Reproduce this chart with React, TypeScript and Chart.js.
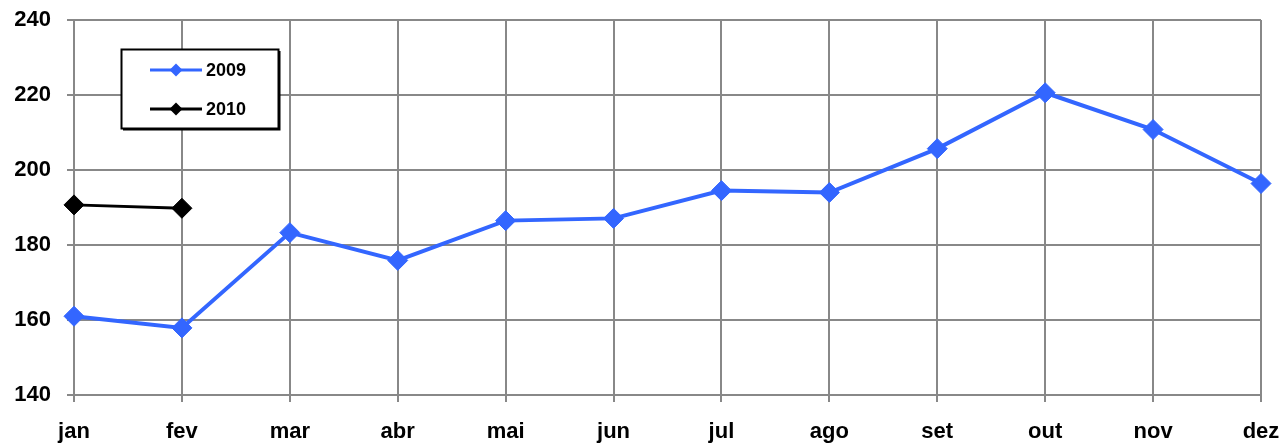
import React, { useEffect, useRef } from "react";
import { Chart, registerables } from "chart.js";

Chart.register(...registerables);

const months = ["jan", "fev", "mar", "abr", "mai", "jun", "jul", "ago", "set", "out", "nov", "dez"];
const series2009 = [161.0, 157.9, 183.3, 175.9, 186.5, 187.1, 194.5, 194.0, 205.7, 220.6, 210.8, 196.4];
const series2010 = [190.7, 189.8];
const seriesLabels = ["2009", "2010"];
const yMin = 140;
const yMax = 240;
const yStep = 20;

const FONT = "'Liberation Sans', Arial, sans-serif";

const boxLegend = {
  id: "boxLegend",
  afterDatasetsDraw(chart: any) {
    const ctx = chart.ctx;
    const x0 = 121.5, y0 = 49.5, w = 157, h = 79;
    ctx.save();
    ctx.fillStyle = "#000";
    ctx.fillRect(x0 + 1.5, y0 + 1.5, w + 0.5, h + 0.5);
    ctx.fillStyle = "#fff";
    ctx.fillRect(x0, y0, w, h);
    ctx.strokeStyle = "#000";
    ctx.lineWidth = 2;
    ctx.strokeRect(x0, y0, w, h);
    const rows = [70, 109];
    chart.data.datasets.forEach((ds: any, i: number) => {
      const y = rows[i];
      ctx.strokeStyle = ds.borderColor;
      ctx.lineWidth = 3;
      ctx.beginPath();
      ctx.moveTo(150, y);
      ctx.lineTo(202, y);
      ctx.stroke();
      ctx.fillStyle = ds.pointBackgroundColor;
      const r = 6.5;
      ctx.beginPath();
      ctx.moveTo(176 - r, y);
      ctx.lineTo(176, y - r);
      ctx.lineTo(176 + r, y);
      ctx.lineTo(176, y + r);
      ctx.closePath();
      ctx.fill();
      ctx.fillStyle = "#000";
      ctx.font = `bold 18px ${FONT}`;
      ctx.textBaseline = "middle";
      ctx.textAlign = "left";
      ctx.fillText(ds.label, 206, y + 1);
    });
    ctx.restore();
  },
};

const zeroPad = (s: any) => {
  s.paddingLeft = 0;
  s.paddingRight = 0;
  s.paddingTop = 0;
  s.paddingBottom = 0;
};

export default function App() {
  const ref = useRef<HTMLCanvasElement | null>(null);
  useEffect(() => {
    if (!ref.current) return;
    const chart = new Chart(ref.current, {
      type: "line",
      data: {
        labels: months,
        datasets: [
          {
            label: seriesLabels[0],
            data: series2009,
            borderColor: "#3366FF",
            backgroundColor: "#3366FF",
            pointBackgroundColor: "#3366FF",
            pointBorderColor: "#3366FF",
            borderWidth: 4,
            pointStyle: "rectRot",
            pointRadius: 10,
            pointBorderWidth: 1,
            tension: 0,
          },
          {
            label: seriesLabels[1],
            data: series2010,
            borderColor: "#000000",
            backgroundColor: "#000000",
            pointBackgroundColor: "#000000",
            pointBorderColor: "#000000",
            borderWidth: 3,
            pointStyle: "rectRot",
            pointRadius: 10,
            pointBorderWidth: 1,
            tension: 0,
          },
        ],
      },
      options: {
        animation: false,
        responsive: false,
        layout: { padding: { left: 0, right: 23, top: 20, bottom: 0 } },
        plugins: { legend: { display: false }, tooltip: { enabled: false } },
        scales: {
          x: {
            type: "category",
            offset: false,
            grid: { color: "#888888", lineWidth: 2, tickLength: 7, offset: false },
            border: { display: true, color: "#888888", width: 2 },
            ticks: {
              color: "#000",
              font: { family: FONT, size: 22, weight: "bold" },
              padding: 17,
              maxRotation: 0,
              autoSkip: false,
            },
            afterFit: (s: any) => {
              s.height = 50;
              zeroPad(s);
            },
          },
          y: {
            min: yMin,
            max: yMax,
            grid: { color: "#888888", lineWidth: 2, tickLength: 7 },
            border: { display: true, color: "#888888", width: 2 },
            ticks: {
              stepSize: yStep,
              color: "#000",
              font: { family: FONT, size: 22, weight: "bold" },
              padding: 16,
            },
            afterFit: (s: any) => {
              s.width = 74;
              zeroPad(s);
            },
          },
        },
      },
      plugins: [boxLegend],
    });
    return () => chart.destroy();
  }, []);
  return (
    <div style={{ position: "absolute", left: 0, top: 0, width: 1284, height: 445, background: "#fff" }}>
      <canvas ref={ref} width={1284} height={445} style={{ display: "block" }} />
    </div>
  );
}
